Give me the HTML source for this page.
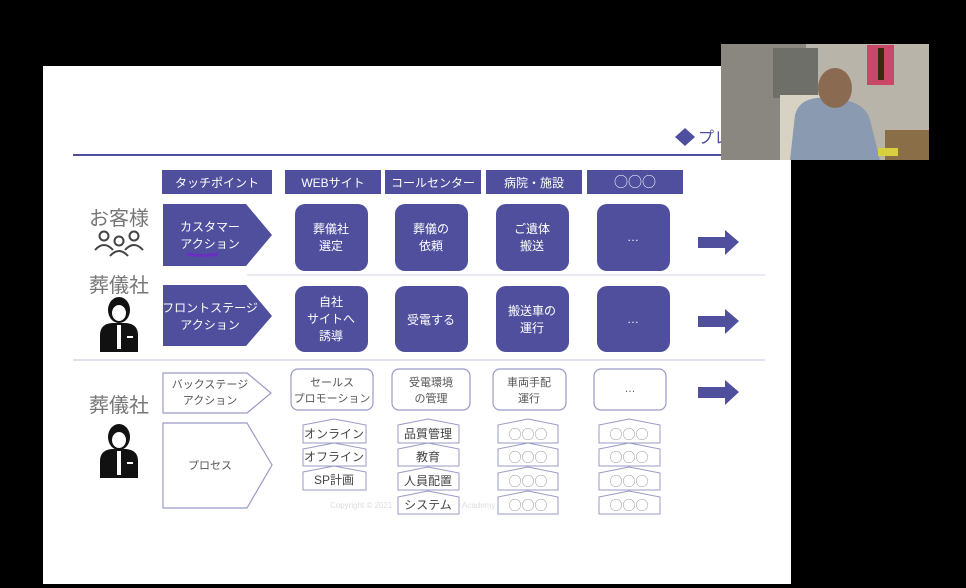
<!DOCTYPE html>
<html><head><meta charset="utf-8"><style>
html,body{margin:0;padding:0;background:#000;}
svg{display:block;}
text{font-family:"Liberation Sans","Noto Sans CJK JP",sans-serif;}
text.c{font-family:"Noto Sans CJK JP",sans-serif;}
</style></head><body>
<svg width="966" height="588" viewBox="0 0 966 588" xmlns="http://www.w3.org/2000/svg">
<rect x="0" y="0" width="966" height="588" fill="#000"/>
<rect x="43" y="66" width="748" height="518" fill="#fff"/>
<polygon points="685,128 695,137 685,146 675,137" fill="#4f4f9e"/>
<text x="698" y="143" font-size="16" fill="#4f4f9e">プレ</text>
<line x1="73" y1="155" x2="791" y2="155" stroke="#4f4f9e" stroke-width="2"/>
<g fill="#4f4f9e">
<rect x="162" y="170" width="110" height="24"/>
<rect x="285" y="170" width="96" height="24"/>
<rect x="385" y="170" width="96" height="24"/>
<rect x="486" y="170" width="96" height="24"/>
<rect x="587" y="170" width="96" height="24"/>
</g>
<g fill="#fff" font-size="12" text-anchor="middle">
<text x="217" y="187">タッチポイント</text>
<text x="333" y="187">WEBサイト</text>
<text x="433" y="187">コールセンター</text>
<text x="534" y="187">病院・施設</text>
<text class="c" x="635" y="187" font-size="14">○○○</text>
</g>
<g fill="#777" font-size="20" text-anchor="middle">
<text x="119" y="225">お客様</text>
<text x="119" y="292">葬儀社</text>
<text x="119" y="412">葬儀社</text>
</g>
<g fill="none" stroke="#444" stroke-width="2">
<circle cx="104" cy="236" r="4.5"/><circle cx="119" cy="241" r="4.5"/><circle cx="134" cy="236" r="4.5"/>
<path d="M95,250 q9,-10 18,0"/><path d="M125,250 q9,-10 18,0"/><path d="M110,256 q9,-10 18,0"/>
</g>
<g fill="#111">
<ellipse cx="119" cy="310" rx="11" ry="13"/>
<path d="M100,352 L100,335 Q100,324 112,323 L126,323 Q138,324 138,335 L138,352 Z"/>
<ellipse cx="119" cy="437" rx="11" ry="13"/>
<path d="M100,478 L100,461 Q100,450 112,449 L126,449 Q138,450 138,461 L138,478 Z"/>
</g>
<g fill="#fff"><rect x="117" y="325" width="4" height="24"/><rect x="127" y="336" width="6" height="2"/><ellipse cx="119" cy="313" rx="7" ry="8"/>
<rect x="117" y="451" width="4" height="24"/><rect x="127" y="462" width="6" height="2"/><ellipse cx="119" cy="440" rx="7" ry="8"/></g>
<polygon points="163,204 246,204 272,235 246,266 163,266" fill="#4f4f9e"/>
<polygon points="163,285 246,285 272,316 246,346 163,346" fill="#4f4f9e"/>
<g fill="#fff" font-size="12" text-anchor="middle">
<text x="210" y="231">カスタマー</text><text x="210" y="248">アクション</text>
<text x="210" y="312">フロントステージ</text><text x="210" y="329">アクション</text>
</g>
<path d="M187,254 Q200,257 218,254" stroke="#6a2fc0" stroke-width="3" fill="none"/>
<polygon points="163,373 247,373 271,393 247,413 163,413" fill="#fff" stroke="#9a9ac6" stroke-width="1.2"/>
<polygon points="163,423 247,423 272,465 247,508 163,508" fill="#fff" stroke="#9a9ac6" stroke-width="1.2"/>
<g fill="#555" font-size="11" text-anchor="middle">
<text x="210" y="388">バックステージ</text><text x="210" y="404">アクション</text>
<text x="210" y="469">プロセス</text>
</g>
<line x1="247" y1="275" x2="765" y2="275" stroke="#d6d6e8" stroke-width="1"/>
<line x1="73" y1="360" x2="765" y2="360" stroke="#d6d6e8" stroke-width="1.5"/>
<g fill="#4f4f9e">
<rect x="295" y="204" width="73" height="67" rx="10"/>
<rect x="395" y="204" width="73" height="67" rx="10"/>
<rect x="496" y="204" width="73" height="67" rx="10"/>
<rect x="597" y="204" width="73" height="67" rx="10"/>
<rect x="295" y="286" width="73" height="66" rx="10"/>
<rect x="395" y="286" width="73" height="66" rx="10"/>
<rect x="496" y="286" width="73" height="66" rx="10"/>
<rect x="597" y="286" width="73" height="66" rx="10"/>
</g>
<g fill="#fff" font-size="12" text-anchor="middle">
<text x="331" y="233">葬儀社</text><text x="331" y="250">選定</text>
<text x="431" y="233">葬儀の</text><text x="431" y="250">依頼</text>
<text x="532" y="233">ご遺体</text><text x="532" y="250">搬送</text>
<text x="633" y="241">…</text>
<text x="331" y="306">自社</text><text x="331" y="323">サイトへ</text><text x="331" y="340">誘導</text>
<text x="431" y="324">受電する</text>
<text x="532" y="315">搬送車の</text><text x="532" y="332">運行</text>
<text x="633" y="323">…</text>
</g>
<g fill="#4f4f9e">
<polygon points="698,237 725,237 725,230 739,242 725,255 725,248 698,248"/>
<polygon points="698,316 725,316 725,309 739,321 725,334 725,327 698,327"/>
<polygon points="698,387 725,387 725,380 739,392 725,405 725,398 698,398"/>
</g>
<g fill="#fff" stroke="#9a9ac6" stroke-width="1.2">
<rect x="291" y="369" width="82" height="41" rx="7"/>
<rect x="392" y="369" width="78" height="41" rx="7"/>
<rect x="493" y="369" width="73" height="41" rx="7"/>
<rect x="594" y="369" width="72" height="41" rx="7"/>
</g>
<g fill="#555" font-size="11" text-anchor="middle">
<text x="332" y="386">セールス</text><text x="332" y="402">プロモーション</text>
<text x="431" y="386">受電環境</text><text x="431" y="402">の管理</text>
<text x="529" y="386">車両手配</text><text x="529" y="402">運行</text>
<text x="630" y="392">…</text>
</g>
<g fill="#fff" stroke="#9a9ac6" stroke-width="1">
<polygon points="303,425 334,419 366,425 366,443 303,443"/>
<polygon points="303,449 334,443 366,449 366,466 303,466"/>
<polygon points="303,472 334,466 366,472 366,490 303,490"/>
<polygon points="398,425 428,419 459,425 459,443 398,443"/>
<polygon points="398,449 428,443 459,449 459,466 398,466"/>
<polygon points="398,473 428,467 459,473 459,490 398,490"/>
<polygon points="398,497 428,491 459,497 459,514 398,514"/>
<polygon points="498,425 528,419 558,425 558,443 498,443"/>
<polygon points="498,449 528,443 558,449 558,466 498,466"/>
<polygon points="498,473 528,467 558,473 558,490 498,490"/>
<polygon points="498,497 528,491 558,497 558,514 498,514"/>
<polygon points="599,425 629,419 660,425 660,443 599,443"/>
<polygon points="599,449 629,443 660,449 660,466 599,466"/>
<polygon points="599,473 629,467 660,473 660,490 599,490"/>
<polygon points="599,497 629,491 660,497 660,514 599,514"/>
</g>
<g fill="#444" font-size="12" text-anchor="middle">
<text x="334" y="438">オンライン</text>
<text x="334" y="461">オフライン</text>
<text x="334" y="484">SP計画</text>
<text x="428" y="438">品質管理</text>
<text x="428" y="461">教育</text>
<text x="428" y="485">人員配置</text>
<text x="428" y="509">システム</text>
</g>
<g fill="#999" font-size="13" text-anchor="middle">
<text class="c" x="528" y="439">○○○</text><text class="c" x="528" y="462">○○○</text><text class="c" x="528" y="486">○○○</text><text class="c" x="528" y="510">○○○</text>
<text class="c" x="629" y="439">○○○</text><text class="c" x="629" y="462">○○○</text><text class="c" x="629" y="486">○○○</text><text class="c" x="629" y="510">○○○</text>
</g>
<text x="330" y="508" font-size="8" fill="#ddd">Copyright © 2021</text>
<text x="462" y="508" font-size="8" fill="#ddd">Academy</text>
<rect x="721" y="44" width="208" height="116" fill="#b9b4aa"/>
<rect x="721" y="44" width="85" height="116" fill="#8a8780"/>
<rect x="773" y="48" width="45" height="50" fill="#6f6f6a"/>
<rect x="867" y="45" width="27" height="40" fill="#c9486a"/>
<rect x="878" y="48" width="6" height="32" fill="#3a2a10"/>
<rect x="780" y="95" width="40" height="65" fill="#d8d2c4"/>
<path d="M790,160 L795,115 Q800,95 830,98 Q865,100 870,120 L880,160 Z" fill="#8a9ab0"/>
<ellipse cx="835" cy="88" rx="17" ry="20" fill="#8b6a52"/>
<rect x="885" y="130" width="44" height="30" fill="#8a6e48"/>
<rect x="878" y="148" width="20" height="8" fill="#d8d040"/>
</svg>
</body></html>
